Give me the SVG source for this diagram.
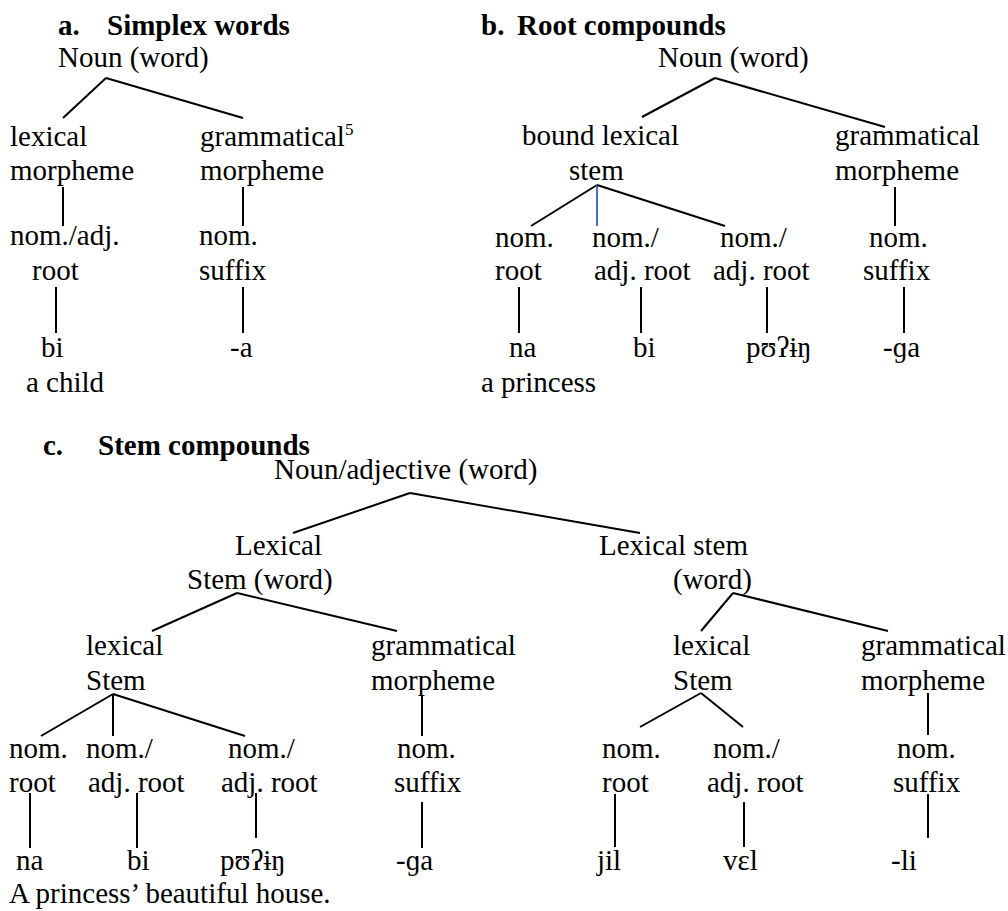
<svg xmlns="http://www.w3.org/2000/svg" width="1008" height="911" viewBox="0 0 1008 911">
<style>
text{font-family:"Liberation Serif","Times New Roman",serif;font-size:29px;fill:#000}
.h{font-weight:bold}
.sup{font-size:17px}
#connectors line{stroke:#000;stroke-width:2;fill:none}
#connectors line.blue{stroke:#4472C4}
</style>
<rect width="1008" height="911" fill="#fff"/>
<g id="titles">
<text class="h" x="58" y="35">a.</text><text class="h" x="107" y="35">Simplex words</text>
<text class="h" x="481" y="35">b.</text><text class="h" x="517" y="35">Root compounds</text>
<text class="h" x="43" y="455">c.</text><text class="h" x="98" y="455">Stem compounds</text>
</g>
<g id="connectors">
<!-- a -->
<line x1="106" y1="78" x2="63" y2="118"/>
<line x1="106" y1="78" x2="243" y2="118"/>
<line x1="63" y1="187" x2="63" y2="226"/>
<line x1="243" y1="187" x2="243" y2="226"/>
<line x1="56" y1="287" x2="56" y2="333"/>
<line x1="243" y1="287" x2="243" y2="333"/>
<!-- b -->
<line x1="715" y1="78" x2="642" y2="117"/>
<line x1="715" y1="78" x2="885" y2="127"/>
<line x1="597" y1="185" x2="531" y2="226"/>
<line class="blue" x1="597" y1="185" x2="597" y2="226"/>
<line x1="597" y1="185" x2="725" y2="226"/>
<line x1="895" y1="187" x2="895" y2="226"/>
<line x1="519" y1="287" x2="519" y2="333"/>
<line x1="641" y1="287" x2="641" y2="333"/>
<line x1="767" y1="287" x2="767" y2="333"/>
<line x1="904" y1="287" x2="904" y2="333"/>
<!-- c -->
<line x1="410" y1="493" x2="293" y2="533"/>
<line x1="410" y1="493" x2="640" y2="533"/>
<line x1="237" y1="593" x2="152" y2="631"/>
<line x1="237" y1="593" x2="397" y2="631"/>
<line x1="733" y1="593" x2="701" y2="631"/>
<line x1="733" y1="593" x2="888" y2="631"/>
<line x1="113" y1="694" x2="41" y2="736"/>
<line x1="113" y1="694" x2="113" y2="736"/>
<line x1="113" y1="694" x2="245" y2="736"/>
<line x1="422" y1="695" x2="422" y2="736"/>
<line x1="701" y1="693" x2="640" y2="727"/>
<line x1="701" y1="693" x2="743" y2="727"/>
<line x1="928" y1="693" x2="928" y2="735"/>
<line x1="30" y1="793" x2="30" y2="848"/>
<line x1="137" y1="793" x2="137" y2="848"/>
<line x1="256" y1="793" x2="256" y2="838"/>
<line x1="422" y1="802" x2="422" y2="848"/>
<line x1="615" y1="794" x2="615" y2="847"/>
<line x1="744" y1="802" x2="744" y2="847"/>
<line x1="928" y1="794" x2="928" y2="838"/>
</g>
<!-- a nodes -->
<g id="a-noun"><text x="58" y="67">Noun (word)</text></g>
<g id="a-lex"><text x="10" y="146">lexical</text><text x="10" y="180">morpheme</text></g>
<g id="a-gram"><text x="200" y="146">grammatical<tspan class="sup" dy="-11">5</tspan></text><text x="200" y="180">morpheme</text></g>
<g id="a-root"><text x="10" y="245">nom./adj.</text><text x="32" y="280">root</text></g>
<g id="a-suffix"><text x="199" y="245">nom.</text><text x="199" y="280">suffix</text></g>
<g id="a-bi"><text x="41" y="357">bi</text><text x="26" y="392">a child</text></g>
<g id="a-a"><text x="230" y="357">-a</text></g>
<!-- b nodes -->
<g id="b-noun"><text x="658" y="67">Noun (word)</text></g>
<g id="b-stem"><text x="522" y="145">bound lexical</text><text x="569" y="180">stem</text></g>
<g id="b-gram"><text x="835" y="145">grammatical</text><text x="835" y="180">morpheme</text></g>
<g id="b-r1"><text x="495" y="247">nom.</text><text x="495" y="280">root</text></g>
<g id="b-r2"><text x="592" y="247">nom./</text><text x="594" y="280">adj. root</text></g>
<g id="b-r3"><text x="720" y="247">nom./</text><text x="713" y="280">adj. root</text></g>
<g id="b-suf"><text x="869" y="247">nom.</text><text x="863" y="280">suffix</text></g>
<g id="b-na"><text x="509" y="357">na</text><text x="481" y="392">a princess</text></g>
<g id="b-bi"><text x="633" y="357">bi</text></g>
<g id="b-pu"><text x="746" y="357">pʊʔɨŋ</text></g>
<g id="b-ga"><text x="883" y="357">-ɡa</text></g>
<!-- c nodes -->
<g id="c-top"><text x="274" y="479">Noun/adjective (word)</text></g>
<g id="c-ls1"><text x="235" y="555">Lexical</text><text x="187" y="589">Stem (word)</text></g>
<g id="c-ls2"><text x="599" y="555">Lexical stem</text><text x="673" y="589">(word)</text></g>
<g id="c-lstem1"><text x="86" y="655">lexical</text><text x="86" y="690">Stem</text></g>
<g id="c-gram1"><text x="371" y="655">grammatical</text><text x="371" y="690">morpheme</text></g>
<g id="c-lstem2"><text x="673" y="655">lexical</text><text x="673" y="690">Stem</text></g>
<g id="c-gram2"><text x="861" y="655">grammatical</text><text x="861" y="690">morpheme</text></g>
<g id="c-r1"><text x="9" y="758">nom.</text><text x="9" y="792">root</text></g>
<g id="c-r2"><text x="86" y="758">nom./</text><text x="88" y="792">adj. root</text></g>
<g id="c-r3"><text x="228" y="758">nom./</text><text x="221" y="792">adj. root</text></g>
<g id="c-suf1"><text x="397" y="758">nom.</text><text x="394" y="792">suffix</text></g>
<g id="c-r4"><text x="602" y="758">nom.</text><text x="602" y="792">root</text></g>
<g id="c-r5"><text x="713" y="758">nom./</text><text x="707" y="792">adj. root</text></g>
<g id="c-suf2"><text x="897" y="758">nom.</text><text x="893" y="792">suffix</text></g>
<g id="c-na"><text x="16" y="870">na</text></g>
<g id="c-bi"><text x="127" y="870">bi</text></g>
<g id="c-pu"><text x="220" y="870">pʊʔɨŋ</text></g>
<g id="c-ga"><text x="396" y="870">-ɡa</text></g>
<g id="c-jil"><text x="597" y="870">jil</text></g>
<g id="c-vel"><text x="723" y="870">vɛl</text></g>
<g id="c-li"><text x="891" y="870">-li</text></g>
<g id="c-gloss"><text x="9" y="903">A princess’ beautiful house.</text></g>
</svg>
